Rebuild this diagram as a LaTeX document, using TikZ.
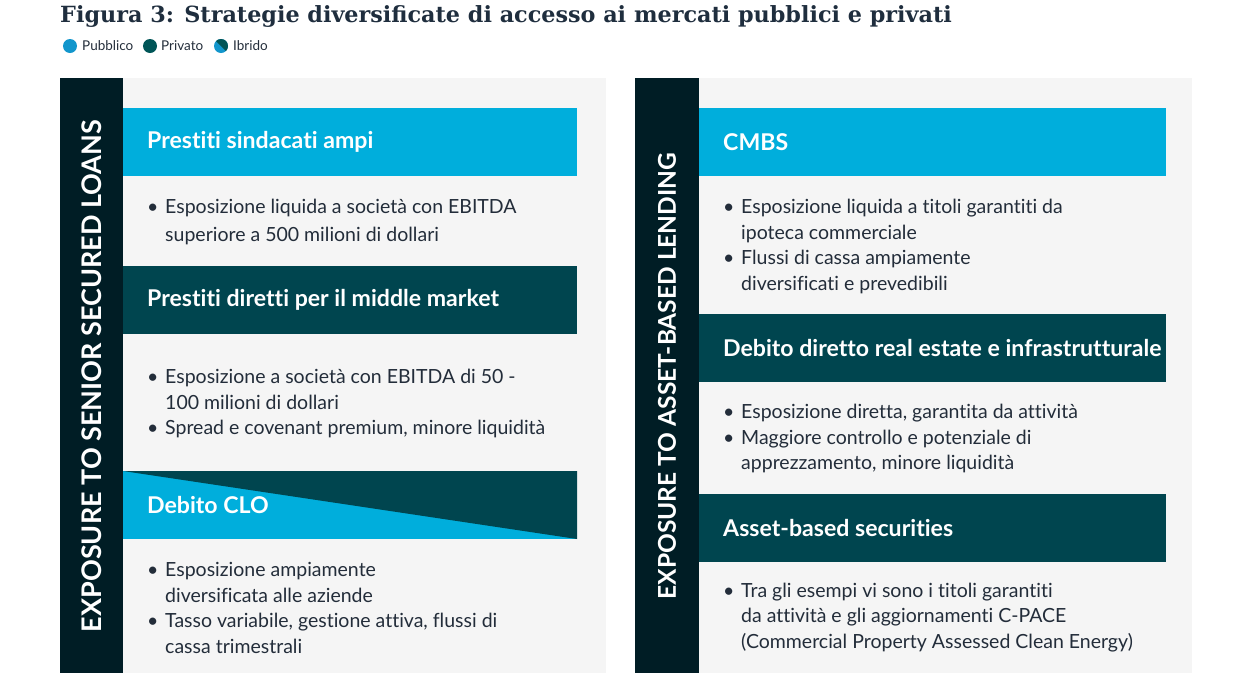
\documentclass[tikz,border=0pt]{standalone}
\usepackage{fontspec}
\setmainfont{Lato}[Ligatures={NoCommon,NoRequired,NoContextual}]
\newfontfamily\titlefont{DejaVu Serif}
\definecolor{cyanband}{HTML}{00AEDC}
\definecolor{tealband}{HTML}{00454F}
\definecolor{darkbar}{HTML}{001D25}
\definecolor{panelbg}{HTML}{F5F5F5}
\definecolor{bodytext}{HTML}{232D3A}
\definecolor{titletext}{HTML}{1F2E3E}
\definecolor{pubblico}{HTML}{1296CC}
\definecolor{privato}{HTML}{005557}
\newcommand{\bl}{\makebox[18pt][l]{\textbullet}}
\newcommand{\ind}{\hspace*{18pt}}

\begin{document}
\begin{tikzpicture}[x=1pt,y=-1pt,
    band/.style={minimum height=68pt, anchor=north west, inner sep=0, outer sep=0},
    head/.style={text=white, font=\fontsize{23.1}{26}\selectfont\bfseries, anchor=west, inner sep=0},
    pts/.style={text=bodytext, align=left, anchor=west, inner sep=0, font=\fontsize{19.5}{25.5}\selectfont},
    side/.style={text=white, font=\fontsize{27}{30}\selectfont\bfseries, rotate=90},
    dot/.style={circle, minimum size=14pt, inner sep=0},
    lgd/.style={anchor=west, inner sep=0, text=bodytext, font=\fontsize{13.5}{15}\selectfont}
  ]
  \useasboundingbox (0,0) rectangle (1258,673);

  % title and legend
  \node[anchor=base west, inner sep=0, text=titletext, font=\titlefont\fontsize{22.3}{26}\selectfont\bfseries] (title) at (60,22)
    {Figura 3: Strategie diversificate di accesso ai mercati pubblici e privati};
  \node[dot, fill=pubblico] (lgpub) at (70,46) {};
  \node[lgd] (lgpubtxt) at (82,46) {Pubblico};
  \node[dot, fill=privato] (lgpri) at (150,46) {};
  \node[lgd] (lgpritxt) at (161,46) {Privato};
  \node[dot, fill=pubblico, path picture={\fill[privato] (path picture bounding box.north west) -- (path picture bounding box.north east) -- (path picture bounding box.south east) -- cycle;}] (lgibr) at (221,46) {};
  \node[lgd] (lgibrtxt) at (233,46) {Ibrido};

  % left panel
  \fill[panelbg] (60,78) rectangle (606,673);
  \fill[darkbar] (60,78) rectangle (123,673);
  \node[side] (lside) at (92,376) {EXPOSURE TO SENIOR SECURED LOANS};

  \node[band, fill=cyanband, minimum width=454pt] (lb1) at (123,108) {};
  \node[head] (lh1) at ([xshift=24pt]lb1.west) {Prestiti sindacati ampi};
  \node[pts, font=\fontsize{19.5}{28}\selectfont] (lp1) at (147,222)
    {\bl Esposizione liquida a società con EBITDA\\\ind superiore a 500 milioni di dollari};

  \node[band, fill=tealband, minimum width=454pt] (lb2) at (123,266) {};
  \node[head] (lh2) at ([xshift=24pt]lb2.west) {Prestiti diretti per il middle market};
  \node[pts] (lp2) at (147,403.5)
    {\bl Esposizione a società con EBITDA di 50 -\\\ind 100 milioni di dollari\\\bl Spread e covenant premium, minore liquidità};

  \node[band, fill=cyanband, minimum width=454pt] (lb3) at (123,471) {};
  \fill[tealband] (lb3.north west) -- (lb3.north east) -- (lb3.south east) -- cycle;
  \node[head] (lh3) at ([xshift=24pt]lb3.west) {Debito CLO};
  \node[pts] (lp3) at (147,608)
    {\bl Esposizione ampiamente\\\ind diversificata alle aziende\\\bl Tasso variabile, gestione attiva, flussi di\\\ind cassa trimestrali};

  % right panel
  \fill[panelbg] (635,78) rectangle (1192,673);
  \fill[darkbar] (635,78) rectangle (699,673);
  \node[side, font=\fontsize{24.5}{28}\selectfont\bfseries] (rside) at (667,376) {EXPOSURE TO ASSET-BASED LENDING};

  \node[band, fill=cyanband, minimum width=467pt] (rb1) at (699,108) {};
  \node[head] (rh1) at ([xshift=24pt]rb1.west) {CMBS};
  \node[pts] (rp1) at (723,246.5)
    {\bl Esposizione liquida a titoli garantiti da\\\ind ipoteca commerciale\\\bl Flussi di cassa ampiamente\\\ind diversificati e prevedibili};

  \node[band, fill=tealband, minimum width=467pt] (rb2) at (699,314) {};
  \node[head] (rh2) at ([xshift=24pt]rb2.west) {Debito diretto real estate e infrastrutturale};
  \node[pts] (rp2) at (723,438.5)
    {\bl Esposizione diretta, garantita da attività\\\bl Maggiore controllo e potenziale di\\\ind apprezzamento, minore liquidità};

  \node[band, fill=tealband, minimum width=467pt] (rb3) at (699,494) {};
  \node[head] (rh3) at ([xshift=24pt]rb3.west) {Asset-based securities};
  \node[pts] (rp3) at (723,617.5)
    {\bl Tra gli esempi vi sono i titoli garantiti\\\ind da attività e gli aggiornamenti C-PACE\\\ind (Commercial Property Assessed Clean Energy)};
\end{tikzpicture}
\end{document}
